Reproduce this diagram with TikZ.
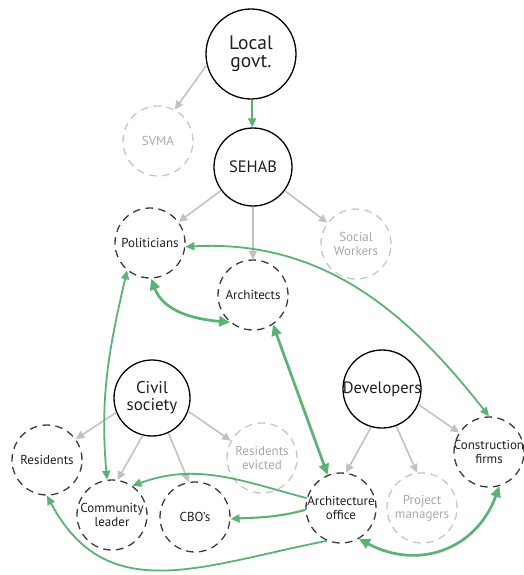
\documentclass[tikz,border=0pt]{standalone}
\usepackage{fontspec}
\setmainfont{PT Sans}
\usetikzlibrary{arrows.meta}
\definecolor{grn}{HTML}{5BB274}
\definecolor{garrow}{HTML}{C2C2C2}
\definecolor{lcirc}{HTML}{C6C6C6}
\definecolor{ltext}{HTML}{A8A8A8}
\definecolor{dcirc}{HTML}{3A3A3A}
\newcommand\zc[1]{\makebox[0pt]{#1}}
\begin{document}
\begin{tikzpicture}[x=1pt,y=1pt,
  solidc/.style={circle, draw=black, line width=1.3pt, inner sep=0pt, align=center, text=black!88},
  darkc/.style={circle, draw=dcirc, line width=1.3pt, dash pattern=on 7.5pt off 5.5pt, inner sep=0pt, minimum size=70pt, align=center, font=\fontsize{13}{14}\selectfont, text=black!88},
  lightc/.style={darkc, draw=lcirc, text=ltext},
  grayarr/.style={draw=garrow, line width=1.6pt, -{Triangle[length=8.5pt,width=8pt]}},
  gthin/.style={draw=grn, line width=1.8pt},
  gthick/.style={draw=grn, line width=2.7pt},
  gt/.tip={Triangle[length=9pt,width=8pt]},
  Gt/.tip={Triangle[length=11pt,width=10pt]}
]
\useasboundingbox (0,0) rectangle (523,-575);

% main actors
\node[solidc, minimum size=90pt, font=\fontsize{19.5}{18}\selectfont] (local) at (251,-54) {Local\\govt.};
\node[solidc, minimum size=78pt, font=\fontsize{16.5}{16}\selectfont] (sehab) at (253,-167) {SEHAB};
\node[solidc, minimum size=76pt, font=\fontsize{17}{17}\selectfont] (civil) at (152,-398) {Civil\\society};
\node[solidc, minimum size=78pt, font=\fontsize{16.5}{16}\selectfont] (dev) at (382,-389) {\zc{Developers}};

% secondary actors
\node[lightc] (svma) at (158,-141) {SVMA};
\node[darkc] (pol) at (150,-243) {Politicians};
\node[darkc] (archs) at (253,-295) {Architects};
\node[lightc] (social) at (356,-244) {Social\\Workers};
\node[darkc] (res) at (47,-460) {Residents};
\node[darkc] (cl) at (112,-515) {\zc{Community}\\leader};
\node[darkc] (cbo) at (195,-517) {CBO’s};
\node[lightc] (evict) at (262,-458) {Residents\\evicted};
\node[darkc] (cons) at (489,-452) {\zc{Construction}\\firms};
\node[darkc] (aoff) at (341,-508) {\zc{Architecture}\\office};
\node[lightc] (pm) at (422,-508) {Project\\managers};

% gray hierarchy arrows
\draw[grayarr] (local.194) -- (svma.62);
\draw[grayarr] (sehab) -- (pol);
\draw[grayarr] (sehab) -- (archs);
\draw[grayarr] (sehab) -- (social);
\draw[grayarr] (civil.202) -- (res.36);
\draw[grayarr] (civil.256) -- (cl.81);
\draw[grayarr] (civil.-65) -- (cbo.100);
\draw[grayarr] (civil.-20) -- (evict.151);
\draw[grayarr] (dev.254) -- (aoff.82);
\draw[grayarr] (dev.-69) -- (pm.98);
\draw[grayarr] (dev.-23) -- (cons.147);

% green relations
\draw[gthin, line width=2pt, -gt] (local) -- (sehab);
\draw[gthick, Gt-Gt] (pol.-88) to[out=-70, in=175] (archs.-130);
\draw[gthin, gt-gt] (pol.-6) to[out=3, in=128] (cons.90);
\draw[gthin, gt-gt] (cl.98) to[out=95, in=-103] (pol.-130);
\draw[gthick, Gt-Gt] (archs.-56) -- (aoff.112);
\draw[gthin, -gt] (aoff.164) to[out=165, in=20] (cl.55);
\draw[gthin, line width=2.1pt, -gt] (aoff.183) to[out=195, in=3] (cbo.-3);
\draw[gthin, -gt] (aoff.-113) to[out=191, in=-62, looseness=1.15] (res.-90);
\draw[gthick, Gt-Gt] (cons.-73) to[out=-110, in=-28, looseness=1.15] (aoff.-60);
\end{tikzpicture}
\end{document}
